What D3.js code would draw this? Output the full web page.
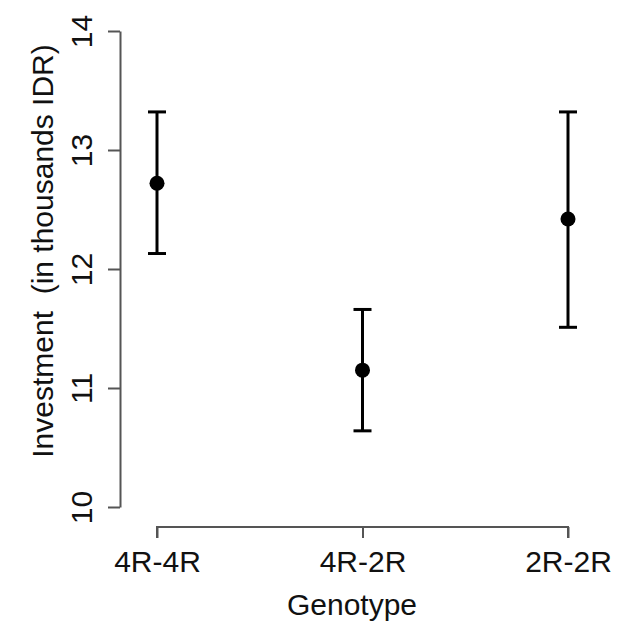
<!DOCTYPE html>
<html>
<head>
<meta charset="utf-8">
<script src="https://cdn.jsdelivr.net/npm/d3@7"></script>
<style>
  html, body { margin: 0; padding: 0; background: #fff; }
  text { font-family: "Liberation Sans", Arial, sans-serif; fill: #111; }
</style>
</head>
<body>
<svg id="chart" width="624" height="624"></svg>
<script>
const categories = ["4R-4R", "4R-2R", "2R-2R"];
const means = [12.72, 11.15, 12.42];
const lower = [12.13, 10.64, 11.51];
const upper = [13.32, 11.66, 13.32];
const yTicks = [10, 11, 12, 13, 14];
const xTitle = "Genotype";
const yTitle = "Investment  (in thousands IDR)";

const svg = d3.select("#chart");
const x = d3.scalePoint().domain(categories).range([157, 568]);
const y = d3.scaleLinear().domain([10, 14]).range([507, 31]);

const axisColor = "#555";
const fs = 30;

// Y axis
const yAxis = svg.append("g").attr("transform", "translate(120,0)")
  .call(d3.axisLeft(y).tickValues(yTicks).tickSize(12).tickSizeOuter(0).tickFormat(d3.format("d")));
yAxis.select(".domain").attr("stroke", axisColor).attr("stroke-width", 2);
yAxis.selectAll(".tick line").attr("stroke", axisColor).attr("stroke-width", 2);
yAxis.selectAll(".tick text")
  .attr("font-size", fs)
  .attr("x", 0).attr("dy", 0)
  .attr("text-anchor", "middle")
  .attr("transform", "translate(-28,0) rotate(-90)");

// X axis
const xAxis = svg.append("g").attr("transform", "translate(0,527)")
  .call(d3.axisBottom(x).tickSize(11).tickSizeOuter(0));
xAxis.select(".domain").attr("stroke", axisColor).attr("stroke-width", 2)
  .attr("d", `M${x(categories[0])},11V0H${x(categories[categories.length-1])}V11`);
xAxis.selectAll(".tick line").attr("stroke", axisColor).attr("stroke-width", 2);
xAxis.selectAll(".tick text").attr("font-size", fs).attr("y", 0).attr("dy", 0)
  .attr("transform", "translate(0,45)");

// Titles
svg.append("text").attr("x", 352).attr("y", 615).attr("text-anchor", "middle")
  .attr("font-size", fs).text(xTitle);
svg.append("text").attr("transform", "translate(53,251) rotate(-90)")
  .attr("text-anchor", "middle").attr("font-size", fs)
  .style("white-space", "pre").attr("xml:space", "preserve").text(yTitle);

// Error bars
const g = svg.append("g");
const capHalf = 9;
categories.forEach((c, i) => {
  const cx = x(c);
  g.append("line").attr("x1", cx).attr("x2", cx).attr("y1", y(lower[i])).attr("y2", y(upper[i]))
    .attr("stroke", "#000").attr("stroke-width", 3);
  [lower[i], upper[i]].forEach(v => {
    g.append("line").attr("x1", cx - capHalf).attr("x2", cx + capHalf).attr("y1", y(v)).attr("y2", y(v))
      .attr("stroke", "#000").attr("stroke-width", 3);
  });
  g.append("circle").attr("cx", cx).attr("cy", y(means[i])).attr("r", 7.5).attr("fill", "#000");
});
</script>
</body>
</html>
